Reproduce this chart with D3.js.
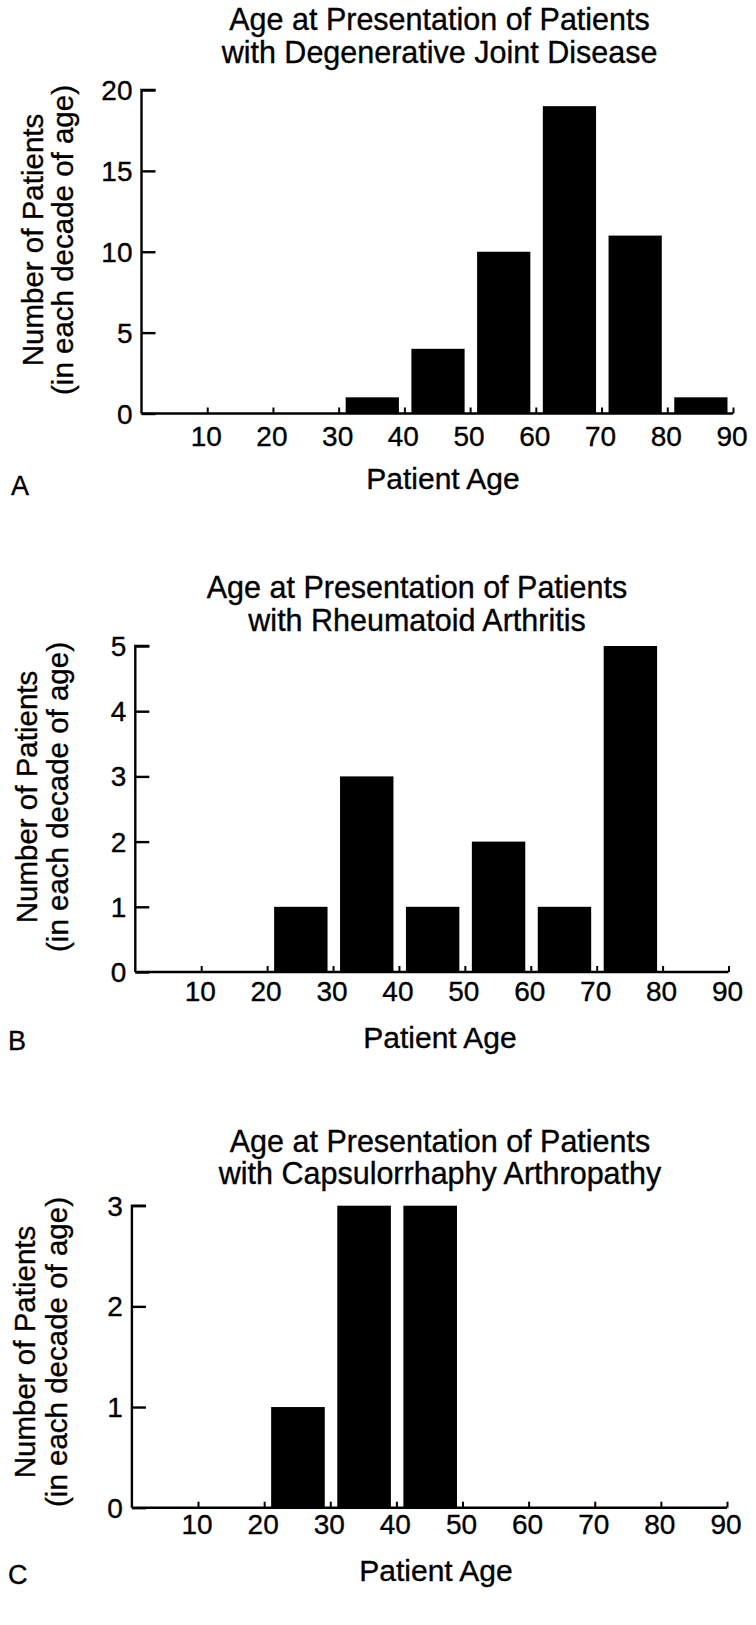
<!DOCTYPE html>
<html>
<head>
<meta charset="utf-8">
<script src="https://cdn.jsdelivr.net/npm/d3@7"></script>
<style>
  html, body { margin: 0; padding: 0; background: #fff; }
  svg { display: block; }
  text { font-family: "Liberation Sans", Arial, Helvetica, sans-serif; fill: #000; stroke: #000; stroke-width: 0.35px; }
</style>
</head>
<body>
<svg id="chart" width="756" height="1625"></svg>
<script>
// ---------- data ----------
const decadeStarts = [0, 10, 20, 30, 40, 50, 60, 70, 80];
const xTickValues = [10, 20, 30, 40, 50, 60, 70, 80, 90];
const xTickLabels = ["10", "20", "30", "40", "50", "60", "70", "80", "90"];

const countsDJD = [0, 0, 0, 1, 4, 10, 19, 11, 1];
const countsRA  = [0, 0, 1, 3, 1, 2, 1, 5, 0];
const countsCA  = [0, 0, 1, 3, 3, 0, 0, 0, 0];

const yTicksDJD = [0, 5, 10, 15, 20];
const yTicksRA  = [0, 1, 2, 3, 4, 5];
const yTicksCA  = [0, 1, 2, 3];

const titlesDJD = ["Age at Presentation of Patients", "with Degenerative Joint Disease"];
const titlesRA  = ["Age at Presentation of Patients", "with Rheumatoid Arthritis"];
const titlesCA  = ["Age at Presentation of Patients", "with Capsulorrhaphy Arthropathy"];

const panelLetters = ["A", "B", "C"];
const yLabelLines = ["Number of Patients", "(in each decade of age)"];
const xLabel = "Patient Age";

// ---------- layout ----------
const panels = [
  { letter: panelLetters[0], titles: titlesDJD, counts: countsDJD, yTicks: yTicksDJD,
    x0: 141.5, x90: 733, yTop: 90, yZero: 413.5,
    titleX: 439.5, titleY: [30, 62.5],
    tickLabelY: 446, xLabelX: 443, xLabelY: 489, letterX: 11, letterY: 495,
    yLabX: [43, 73], yLabCY: 240 },
  { letter: panelLetters[1], titles: titlesRA, counts: countsRA, yTicks: yTicksRA,
    x0: 135.3, x90: 728.5, yTop: 646, yZero: 972,
    titleX: 417, titleY: [598, 631],
    tickLabelY: 1001, xLabelX: 440, xLabelY: 1048, letterX: 8, letterY: 1050,
    yLabX: [37, 68], yLabCY: 797 },
  { letter: panelLetters[2], titles: titlesCA, counts: countsCA, yTicks: yTicksCA,
    x0: 131.9, x90: 727, yTop: 1205.7, yZero: 1507.7,
    titleX: 440, titleY: [1152, 1184],
    tickLabelY: 1534, xLabelX: 436, xLabelY: 1581, letterX: 8, letterY: 1584,
    yLabX: [35, 67], yLabCY: 1352 }
];

const svg = d3.select("#chart");

panels.forEach(p => {
  const g = svg.append("g");
  const yMax = d3.max(p.yTicks);
  const x = d3.scaleLinear().domain([0, 90]).range([p.x0, p.x90]);
  const y = d3.scaleLinear().domain([0, yMax]).range([p.yZero, p.yTop]);

  // title
  p.titles.forEach((t, i) => {
    g.append("text")
      .attr("x", p.titleX).attr("y", p.titleY[i])
      .attr("text-anchor", "middle")
      .style("font-size", "30.5px")
      .text(t);
  });

  // bars
  const barData = decadeStarts.map((d, i) => ({ d, v: p.counts[i] })).filter(e => e.v > 0);
  g.selectAll("rect.bar").data(barData).enter().append("rect")
    .attr("class", "bar")
    .attr("x", e => x(e.d) + 7)
    .attr("width", e => x(e.d + 10) - 5.5 - (x(e.d) + 7))
    .attr("y", e => y(e.v))
    .attr("height", e => y(0) - y(e.v))
    .attr("fill", "#000");

  // y axis (ticks inward)
  const yAxis = d3.axisRight(y).tickValues(p.yTicks).tickSize(14).tickFormat("");
  const ya = g.append("g").attr("transform", `translate(${p.x0},0)`).call(yAxis);
  ya.select(".domain").attr("d", `M${14},${y(yMax)}H0V${y(0)}`).attr("stroke", "#000").attr("stroke-width", 2.4);
  ya.selectAll(".tick line").attr("stroke", "#000").attr("stroke-width", 2.4);

  // y tick labels
  g.selectAll("text.ytl").data(p.yTicks).enter().append("text")
    .attr("class", "ytl")
    .attr("x", p.x0 - 9)
    .attr("y", d => y(d))
    .attr("dy", "0.36em")
    .attr("text-anchor", "end")
    .style("font-size", "28px")
    .text(d => d);

  // x axis (ticks inward)
  const xAxis = d3.axisTop(x).tickValues(xTickValues).tickSize(6).tickFormat("");
  const xa = g.append("g").attr("transform", `translate(0,${p.yZero})`).call(xAxis);
  xa.select(".domain").attr("d", `M${x(0)},0H${x(90)}`).attr("stroke", "#000").attr("stroke-width", 2.4);
  xa.selectAll(".tick line").attr("stroke", "#000").attr("stroke-width", 2);

  // x tick labels
  g.selectAll("text.xtl").data(xTickValues).enter().append("text")
    .attr("class", "xtl")
    .attr("x", (d) => x(d) - 1)
    .attr("y", p.tickLabelY)
    .attr("text-anchor", "middle")
    .style("font-size", "28px")
    .text((d, i) => xTickLabels[i]);

  // x axis label
  g.append("text")
    .attr("x", p.xLabelX).attr("y", p.xLabelY)
    .attr("text-anchor", "middle")
    .style("font-size", "30px")
    .text(xLabel);

  // y axis label (two lines, rotated)
  yLabelLines.forEach((t, i) => {
    g.append("text")
      .attr("transform", `translate(${p.yLabX[i]},${p.yLabCY}) rotate(-90)`)
      .attr("text-anchor", "middle")
      .style("font-size", "29.5px")
      .text(t);
  });

  // panel letter
  g.append("text")
    .attr("x", p.letterX).attr("y", p.letterY)
    .style("font-size", "27px")
    .text(p.letter);
});
</script>
</body>
</html>
